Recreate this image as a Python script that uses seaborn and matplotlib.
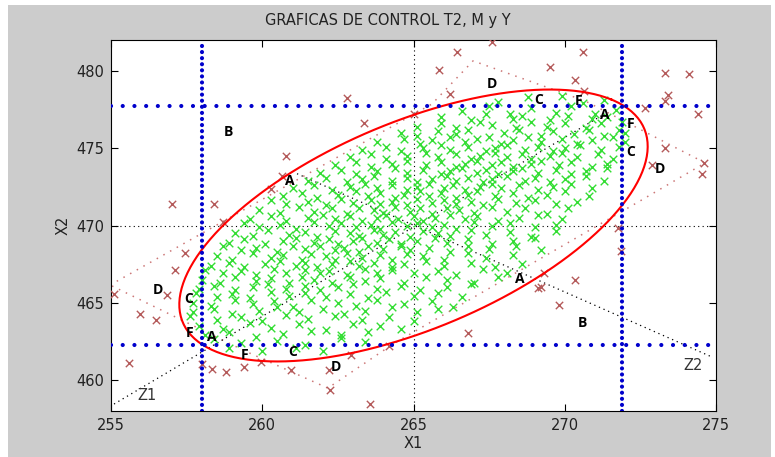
import numpy as np
import pandas as pd
import matplotlib
matplotlib.use('Agg')
import matplotlib.pyplot as plt
import seaborn as sns
from matplotlib.patches import Rectangle

# control limits (univariate)
x1_limits = [258.0, 271.9]
x2_limits = [462.3, 477.7]

# T2 ellipse
center = [265.0, 470.0]
ellipse_axes = [10.45, 5.3]
ellipse_angle = 51.2

# principal axes Z1, Z2
z1_x = [255.1, 271.3]
z1_y = [458.45, 477.2]
z2_x = [261.15, 274.8]
z2_y = [473.35, 461.55]

# M / Y control region (red dotted outline)
region_x = [254.97, 265.61, 266.97, 270.67, 274.64, 272.49, 264.32, 262.17, 259.43]
region_y = [466.15, 477.86, 480.65, 478.06, 474.05, 471.59, 462.33, 459.48, 461.88]

# out of control observations
red_pts = [
    (267.6, 481.9), (266.45, 481.25), (265.85, 480.05), (266.2, 478.5), (262.8, 478.25),
    (263.35, 476.65), (265.0, 477.2), (260.8, 474.5), (260.65, 473.2), (260.3, 472.35),
    (269.5, 480.25), (270.6, 481.25), (270.35, 479.4), (270.65, 478.7), (273.3, 479.85),
    (274.1, 479.8), (273.4, 478.45), (273.3, 478.05), (272.65, 477.6), (274.4, 477.2),
    (273.3, 475.0), (272.9, 473.9), (274.6, 474.05), (274.55, 473.35), (271.75, 469.85),
    (271.85, 468.35), (269.3, 466.95), (269.1, 465.95), (269.2, 466.05), (270.35, 466.45),
    (269.8, 464.85), (266.8, 463.05), (257.0, 471.4), (258.4, 471.4), (258.7, 470.25),
    (257.45, 468.2), (257.1, 467.1), (255.1, 465.55), (256.85, 465.5), (255.95, 464.25),
    (256.5, 463.9), (255.6, 461.1), (258.0, 461.05), (258.35, 460.7), (258.8, 460.55),
    (259.4, 460.85), (259.95, 461.15), (260.95, 460.65), (262.2, 460.65), (262.25, 459.35),
    (262.95, 461.6), (263.55, 458.45), (264.2, 462.2),
]

# in control observations
green_pts = [
    (267.8, 478.0), (268.8, 478.3), (269.9, 478.4), (270.6, 477.9), (271.3, 478.1),
    (266.6, 477.4), (267.5, 477.7), (268.2, 477.2), (268.9, 477.6), (269.7, 477.3), (270.2, 477.7), (271.0, 477.2), (271.7, 477.5),
    (265.9, 477.0), (266.9, 476.8), (267.4, 477.2), (268.3, 476.9), (268.6, 477.1), (269.5, 476.8), (270.1, 477.1), (270.9, 476.9),
    (271.4, 477.0), (271.9, 476.7),
    (265.1, 476.4), (265.9, 476.6), (266.4, 476.3), (267.2, 476.7), (267.6, 476.5), (268.5, 476.2), (268.9, 476.7), (269.4, 476.4),
    (270.0, 476.6), (270.7, 476.3), (271.2, 476.6), (271.8, 476.2),
    (264.6, 476.0), (265.1, 475.8), (265.8, 476.1), (266.4, 475.9), (266.8, 476.2), (267.5, 475.7), (268.0, 476.0), (268.4, 476.3),
    (269.2, 475.8), (269.6, 476.1), (270.3, 475.9), (270.8, 476.2), (271.3, 475.8), (272.0, 476.0),
    (263.8, 475.4), (264.7, 475.6), (265.2, 475.3), (265.6, 475.5), (266.2, 475.7), (266.7, 475.4), (267.1, 475.6), (267.9, 475.3),
    (268.3, 475.5), (268.8, 475.7), (269.2, 475.4), (269.9, 475.6), (270.4, 475.3), (270.9, 475.5), (271.6, 475.7), (272.0, 475.4),
    (263.3, 474.9), (264.1, 475.1), (264.6, 474.8), (265.3, 475.0), (265.9, 475.2), (266.2, 474.9), (266.8, 475.1), (267.4, 474.8),
    (267.7, 475.0), (268.1, 475.2), (268.7, 474.9), (269.1, 475.1), (269.6, 474.8), (270.0, 475.0), (270.5, 475.2), (271.2, 474.9),
    (271.8, 475.1),
    (262.9, 474.4), (263.6, 474.6), (264.1, 474.3), (264.8, 474.5), (265.4, 474.7), (265.8, 474.4), (266.4, 474.6), (266.9, 474.3),
    (267.2, 474.5), (267.7, 474.7), (268.1, 474.4), (268.6, 474.6), (268.9, 474.3), (269.5, 474.5), (269.9, 474.7), (270.4, 474.4),
    (271.1, 474.6), (271.6, 474.3),
    (262.4, 473.9), (263.1, 474.1), (263.6, 473.8), (264.3, 474.0), (264.8, 474.2), (265.4, 473.9), (265.9, 474.1), (266.4, 473.8),
    (266.7, 474.0), (267.1, 474.2), (267.6, 473.9), (267.9, 474.1), (268.3, 473.8), (268.9, 474.0), (269.2, 474.2), (269.8, 473.9),
    (270.2, 474.1), (270.9, 473.8), (271.4, 474.0),
    (261.9, 473.4), (262.6, 473.6), (263.1, 473.3), (263.8, 473.5), (264.4, 473.7), (264.8, 473.4), (265.3, 473.6), (265.9, 473.3),
    (266.2, 473.5), (266.6, 473.7), (267.1, 473.4), (267.4, 473.6), (267.8, 473.3), (268.3, 473.5), (268.6, 473.7), (269.1, 473.4),
    (269.7, 473.6), (270.2, 473.3), (270.7, 473.5), (271.4, 473.7),
    (261.5, 472.9), (262.1, 473.1), (262.8, 472.8), (263.3, 473.0), (263.7, 473.2), (264.3, 472.9), (264.8, 473.1), (265.1, 472.8),
    (265.6, 473.0), (266.1, 473.2), (266.4, 472.9), (266.8, 473.1), (267.3, 472.8), (267.6, 473.0), (268.1, 473.2), (268.7, 472.9),
    (269.0, 473.1), (269.5, 472.8), (270.0, 473.0), (270.7, 473.2), (271.3, 472.9),
    (261.0, 472.4), (261.7, 472.6), (262.3, 472.3), (262.9, 472.5), (263.4, 472.7), (263.8, 472.4), (264.3, 472.6), (264.8, 472.3),
    (265.1, 472.5), (265.5, 472.7), (266.0, 472.4), (266.3, 472.6), (266.7, 472.3), (267.2, 472.5), (267.6, 472.7), (267.9, 472.4),
    (268.5, 472.6), (269.1, 472.3), (269.6, 472.5), (270.2, 472.7), (270.9, 472.4),
    (260.7, 471.9), (261.3, 472.1), (261.8, 471.8), (262.5, 472.0), (263.1, 472.2), (263.5, 471.9), (263.9, 472.1), (264.4, 471.8),
    (264.7, 472.0), (265.2, 472.2), (265.5, 471.9), (265.9, 472.1), (266.4, 471.8), (266.8, 472.0), (267.1, 472.2), (267.7, 471.9),
    (268.3, 472.1), (268.8, 471.8), (269.4, 472.0), (270.0, 472.2), (270.8, 471.9),
    (260.3, 471.65), (260.8, 471.4), (261.5, 471.55), (262.1, 471.3), (262.6, 471.7), (263.0, 471.45), (263.6, 471.65), (263.9, 471.4),
    (264.3, 471.55), (264.8, 471.3), (265.1, 471.7), (265.6, 471.45), (266.0, 471.65), (266.4, 471.4), (266.9, 471.55), (267.3, 471.3),
    (267.8, 471.7), (268.4, 471.45), (269.0, 471.65), (269.7, 471.4), (270.4, 471.55),
    (259.9, 471.0), (260.6, 470.8), (261.2, 471.2), (261.7, 470.9), (262.3, 471.1), (262.8, 470.75), (263.2, 471.15), (263.7, 471.0),
    (264.0, 470.8), (264.4, 471.2), (264.9, 470.9), (265.2, 471.1), (265.6, 470.75), (266.1, 471.15), (266.5, 471.0), (267.0, 470.8),
    (267.6, 471.2), (268.1, 470.9), (268.7, 471.1), (269.4, 470.75), (270.1, 471.15),
    (259.6, 470.4), (260.3, 470.6), (260.8, 470.3), (261.5, 470.5), (262.0, 470.7), (262.4, 470.4), (262.9, 470.6), (263.3, 470.3),
    (263.8, 470.5), (264.1, 470.7), (264.5, 470.4), (265.0, 470.6), (265.3, 470.3), (265.7, 470.5), (266.2, 470.7), (266.7, 470.4),
    (267.1, 470.6), (267.8, 470.3), (268.5, 470.5), (269.1, 470.7), (269.9, 470.4),
    (259.4, 470.15), (259.9, 469.9), (260.6, 470.05), (261.1, 469.8), (261.7, 470.2), (262.2, 469.95), (262.6, 470.15), (263.1, 469.9),
    (263.6, 470.05), (263.9, 469.8), (264.3, 470.2), (264.8, 469.95), (265.1, 470.15), (265.6, 469.9), (266.0, 470.05), (266.4, 469.8),
    (267.0, 470.2), (267.6, 469.95), (268.2, 470.15), (269.0, 469.9), (269.7, 470.05),
    (259.1, 469.5), (259.7, 469.3), (260.2, 469.7), (260.9, 469.4), (261.4, 469.6), (261.8, 469.25), (262.4, 469.65), (262.9, 469.5),
    (263.2, 469.3), (263.7, 469.7), (264.0, 469.4), (264.4, 469.6), (264.9, 469.25), (265.3, 469.65), (265.8, 469.5), (266.2, 469.3),
    (266.9, 469.7), (267.4, 469.4), (268.2, 469.6), (268.9, 469.25), (269.7, 469.65),
    (258.9, 468.9), (259.4, 469.1), (260.1, 468.8), (260.7, 469.0), (261.1, 469.2), (261.7, 468.9), (262.2, 469.1), (262.5, 468.8),
    (263.0, 469.0), (263.3, 469.2), (263.8, 468.9), (264.2, 469.1), (264.6, 468.8), (265.1, 469.0), (265.7, 469.2), (266.1, 468.9),
    (266.8, 469.1), (267.6, 468.8), (268.3, 469.0), (269.0, 469.2),
    (258.7, 468.65), (259.3, 468.4), (259.8, 468.55), (260.5, 468.3), (261.0, 468.7), (261.4, 468.45), (261.9, 468.65), (262.4, 468.4),
    (262.7, 468.55), (263.2, 468.3), (263.5, 468.7), (264.0, 468.45), (264.6, 468.65), (264.9, 468.4), (265.5, 468.55), (266.2, 468.3),
    (266.8, 468.7), (267.5, 468.45), (268.4, 468.65), (269.2, 468.4),
    (258.5, 468.0), (259.0, 467.8), (259.7, 468.2), (260.3, 467.9), (260.7, 468.1), (261.3, 467.75), (261.6, 468.15), (262.1, 468.0),
    (262.4, 467.8), (262.8, 468.2), (263.3, 467.9), (263.9, 468.1), (264.3, 467.75), (264.8, 468.15), (265.3, 468.0), (266.0, 467.8),
    (266.8, 468.2), (267.4, 467.9), (268.3, 468.1),
    (258.3, 467.4), (258.9, 467.6), (259.4, 467.3), (260.1, 467.5), (260.6, 467.7), (261.1, 467.4), (261.4, 467.6), (261.8, 467.3),
    (262.3, 467.5), (262.9, 467.7), (263.2, 467.4), (263.7, 467.6), (264.3, 467.3), (264.7, 467.5), (265.4, 467.7), (266.0, 467.4),
    (266.9, 467.6), (267.7, 467.3), (268.6, 467.5),
    (258.1, 467.15), (258.7, 466.9), (259.3, 467.05), (259.8, 466.8), (260.4, 467.2), (260.8, 466.95), (261.4, 467.15), (261.9, 466.9),
    (262.2, 467.05), (262.8, 466.8), (263.4, 467.2), (263.8, 466.95), (264.3, 467.15), (265.0, 466.9), (265.8, 467.05), (266.4, 466.8),
    (267.3, 467.2), (268.1, 466.95),
    (258.0, 466.5), (258.6, 466.3), (259.1, 466.7), (259.8, 466.4), (260.3, 466.6), (260.9, 466.25), (261.3, 466.65), (261.7, 466.5),
    (262.3, 466.3), (262.9, 466.7), (263.4, 466.4), (263.9, 466.6), (264.7, 466.25), (265.4, 466.65), (266.1, 466.5), (267.0, 466.3),
    (267.8, 466.7),
    (257.9, 465.9), (258.4, 466.1), (259.1, 465.8), (259.7, 466.0), (260.2, 466.2), (260.8, 465.9), (261.4, 466.1), (261.9, 465.8),
    (262.5, 466.0), (263.0, 466.2), (263.8, 465.9), (264.6, 466.1), (265.2, 465.8), (266.1, 466.0), (266.9, 466.2),
    (257.8, 465.65), (258.5, 465.4), (259.0, 465.55), (259.6, 465.3), (260.3, 465.7), (260.9, 465.45), (261.4, 465.65), (262.1, 465.4),
    (262.9, 465.55), (263.5, 465.3), (264.1, 465.7), (265.0, 465.45), (265.8, 465.65), (266.6, 465.4),
    (257.7, 465.0), (258.3, 464.8), (259.1, 465.2), (259.7, 464.9), (260.4, 465.1), (261.0, 464.75), (261.6, 465.15), (262.5, 465.0),
    (263.1, 464.8), (263.8, 465.2), (264.7, 464.9), (265.6, 465.1), (266.3, 464.75),
    (257.7, 464.4), (258.4, 464.6), (259.0, 464.3), (259.9, 464.5), (260.5, 464.7), (261.2, 464.4), (262.0, 464.6), (262.7, 464.3),
    (263.4, 464.5), (264.3, 464.7), (265.1, 464.4), (265.8, 464.6),
    (257.6, 464.15), (258.5, 463.9), (259.3, 464.05), (260.0, 463.8), (260.8, 464.2), (261.5, 463.95), (262.4, 464.15), (263.3, 463.9),
    (264.2, 464.05), (265.0, 463.8),
    (257.9, 463.5), (258.7, 463.3), (259.6, 463.7), (260.3, 463.4), (261.2, 463.6), (262.1, 463.25), (263.0, 463.65), (263.9, 463.5),
    (264.6, 463.3),
    (258.1, 462.9), (258.9, 463.1), (259.8, 462.8), (260.7, 463.0), (261.6, 463.2), (262.6, 462.9), (263.5, 463.1),
    (258.4, 462.65), (259.3, 462.4), (260.5, 462.55), (261.4, 462.3), (262.6, 462.7), (263.4, 462.45),
    (258.9, 462.1), (260.0, 461.9), (261.1, 462.05), (262.0, 461.85),
]

# region letters
letters = ['B', 'A', 'D', 'C', 'F', 'A', 'F', 'C', 'D',
           'D', 'C', 'F', 'A', 'F', 'C', 'D', 'A', 'B']
letter_x = [258.87, 260.92, 267.6, 269.15, 270.47, 271.33, 272.16, 272.19, 273.15,
            256.55, 257.58, 257.61, 258.34, 259.43, 261.02, 262.44, 268.52, 270.6]
letter_y = [476.05, 472.88, 479.16, 478.12, 478.06, 477.15, 476.57, 474.76, 473.66,
            465.83, 465.24, 463.04, 462.78, 461.62, 461.81, 460.84, 466.54, 463.69]

red_df = pd.DataFrame(red_pts, columns=['X1', 'X2'])
green_df = pd.DataFrame(green_pts, columns=['X1', 'X2'])

fig = plt.figure(figsize=(7.75, 4.57), dpi=100, facecolor='white')
fig.patches.append(Rectangle((8 / 775, 0), 763 / 775, 452 / 457, transform=fig.transFigure,
                             facecolor='#cccccc', edgecolor='none', zorder=-10))
ax = fig.add_axes([111 / 775, 1 - 411 / 457, 605 / 775, 371 / 457])
ax.set_facecolor('white')

# center cross
ax.axvline(265, color='black', lw=0.8, ls=(0, (1, 3)), zorder=1)
ax.axhline(470, color='black', lw=0.8, ls=(0, (1, 3)), zorder=1)

# region outline and principal axes
ax.plot(region_x + region_x[:1], region_y + region_y[:1], color='#cc7777', lw=1.1,
        ls=(0, (1, 4)), zorder=2)
ax.plot(z1_x, z1_y, color='black', lw=0.9, ls=(0, (1, 3)), zorder=2)
ax.plot(z2_x, z2_y, color='black', lw=0.9, ls=(0, (1, 3)), zorder=2)

sns.scatterplot(data=red_df, x='X1', y='X2', marker='x', color='#b45a5a', s=28,
                linewidth=1, ax=ax, zorder=3)
sns.scatterplot(data=green_df, x='X1', y='X2', marker='x', color='#33dd33', s=30,
                linewidth=1, ax=ax, zorder=3)

# T2 ellipse
t = np.linspace(0, 2 * np.pi, 300)
th = np.radians(ellipse_angle)
ex = center[0] + ellipse_axes[0] * np.cos(t) * np.cos(th) - ellipse_axes[1] * np.sin(t) * np.sin(th)
ey = center[1] + ellipse_axes[0] * np.cos(t) * np.sin(th) + ellipse_axes[1] * np.sin(t) * np.cos(th)
ax.plot(ex, ey, color='red', lw=1.5, zorder=4)

# individual control limits
for v in x1_limits:
    ax.axvline(v, color='#0000cc', lw=3, ls=(0, (0.01, 1.45)), dash_capstyle='round', zorder=5)
for h in x2_limits:
    ax.axhline(h, color='#0000cc', lw=3, ls=(0, (0.01, 2.8)), dash_capstyle='round', zorder=5)

for s, x, y in zip(letters, letter_x, letter_y):
    ax.text(x, y, s, fontsize=10, fontweight='bold', ha='center', va='center',
            family='Open Sans', color='black', zorder=6)
ax.text(256.2, 459.0, 'Z1', fontsize=10.5, ha='center', va='center', color='#333333', zorder=6)
ax.text(274.24, 460.97, 'Z2', fontsize=10.5, ha='center', va='center', color='#333333', zorder=6)

ax.set_xlim(255, 275)
ax.set_ylim(458, 482)
ax.set_xticks([255, 260, 265, 270, 275])
ax.set_yticks([460, 465, 470, 475, 480])
ax.tick_params(direction='in', top=True, right=True, length=5, width=0.8,
               labelsize=10.5, labelcolor='#222222', pad=5)
for sp in ax.spines.values():
    sp.set_color('black')
    sp.set_linewidth(0.8)

fig.text(388 / 775, 1 - 20 / 457, 'GRAFICAS DE CONTROL T2, M y Y', fontsize=10.5,
         color='#222222', ha='center', va='center')
ax.set_xlabel('X1', fontsize=10.5, color='#222222', labelpad=2)
ax.set_ylabel('X2', fontsize=10.5, color='#222222', labelpad=4)

fig.savefig('out.png', dpi=100, facecolor=fig.get_facecolor())
